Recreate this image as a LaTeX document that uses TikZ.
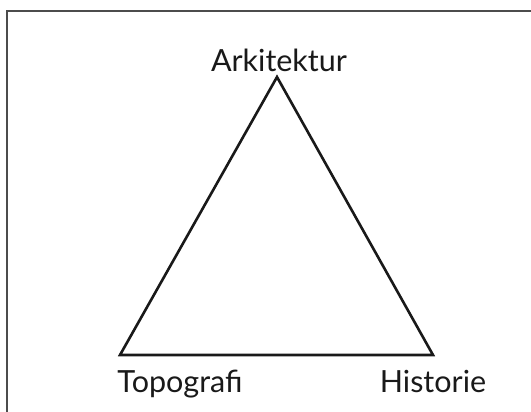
\documentclass[tikz,border=0pt]{standalone}
\usepackage{fontspec}
\setmainfont{Lato}

\tikzset{
  corner/.style={font=\fontsize{30.5}{36}\selectfont, text=black!90, anchor=base, inner sep=0pt},
  edge/.style={line width=2.6pt, line join=miter, black!90}
}

\begin{document}
\begin{tikzpicture}[x=1pt,y=1pt]
\useasboundingbox (0,0) rectangle (531,412);

% Frame (top and left only)
\draw[line width=2pt, black!70] (6.5,0) -- (6.5,401) -- (531,401);

% Triangle corners
\coordinate (apex) at (277,335);
\coordinate (left) at (120,57);
\coordinate (right) at (433,57);
\draw[edge] (apex) -- (left) -- (right) -- cycle;

% Labels
\node[corner] (arkitektur) at (279,340) {Arkitektur};
\node[corner] (topografi) at (180,19) {Topografi};
\node[corner] (historie) at (433,19) {Historie};

\end{tikzpicture}
\end{document}
